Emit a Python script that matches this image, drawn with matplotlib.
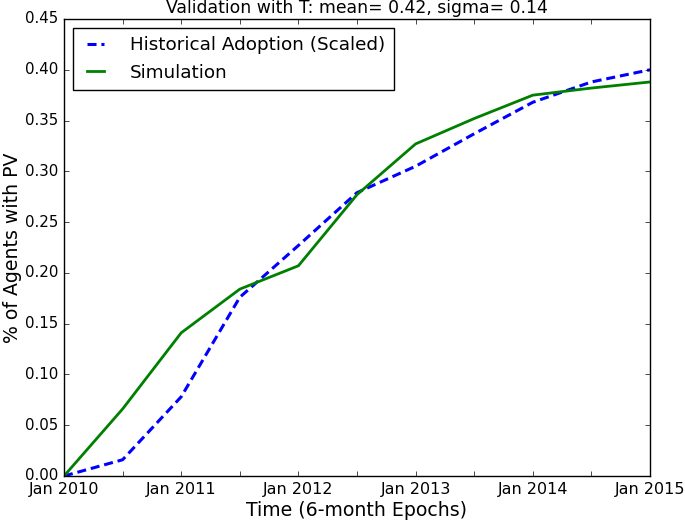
import matplotlib
matplotlib.use("Agg")
import matplotlib.pyplot as plt

plt.style.use("classic")
plt.rcParams["font.family"] = ["DejaVu Sans"]

epochs = list(range(11))
tick_labels = ["Jan 2010", "", "Jan 2011", "", "Jan 2012", "", "Jan 2013", "", "Jan 2014", "", "Jan 2015"]
y_ticks = [0.0, 0.05, 0.10, 0.15, 0.20, 0.25, 0.30, 0.35, 0.40, 0.45]
y_tick_labels = ["0.00", "0.05", "0.10", "0.15", "0.20", "0.25", "0.30", "0.35", "0.40", "0.45"]
historical = [0.0, 0.016, 0.078, 0.176, 0.227, 0.279, 0.305, 0.337, 0.368, 0.388, 0.400]
simulation = [0.0, 0.066, 0.141, 0.184, 0.207, 0.277, 0.327, 0.352, 0.375, 0.382, 0.388]

fig = plt.figure(figsize=(6.85, 5.23), dpi=100, facecolor="white")
ax = fig.add_axes([64/685, 47/523, 586/685, 457/523])
ax.set_facecolor("white")

ax.plot(epochs, historical, color="b", ls=(0, (6.5, 3.5)), lw=2.2,
        label="Historical Adoption (Scaled)")
ax.plot(epochs, simulation, color=(0, 0.5, 0), ls="-", lw=2.0, label="Simulation")

ax.set_xlim(0, 10)
ax.set_ylim(0, 0.45)
ax.set_xticks(epochs)
ax.set_xticklabels(tick_labels, fontsize=11.5)
ax.set_yticks(y_ticks)
ax.set_yticklabels(y_tick_labels, fontsize=10.8)
ax.tick_params(which="major", length=3.5)
ax.tick_params(axis="x", pad=4)
ax.set_xlabel("Time (6-month Epochs)", fontsize=13.6, labelpad=3)
ax.set_ylabel("% of Agents with PV", fontsize=13.6, labelpad=2)
ax.set_title("Validation with T: mean= 0.42, sigma= 0.14", fontsize=12.4, pad=4.5)
ax.legend(loc="upper left", fontsize=13.2, borderaxespad=0.5, handlelength=1.55,
          handletextpad=1.1, labelspacing=0.5, borderpad=0.45)

fig.savefig("out.png", dpi=100, facecolor="white")
